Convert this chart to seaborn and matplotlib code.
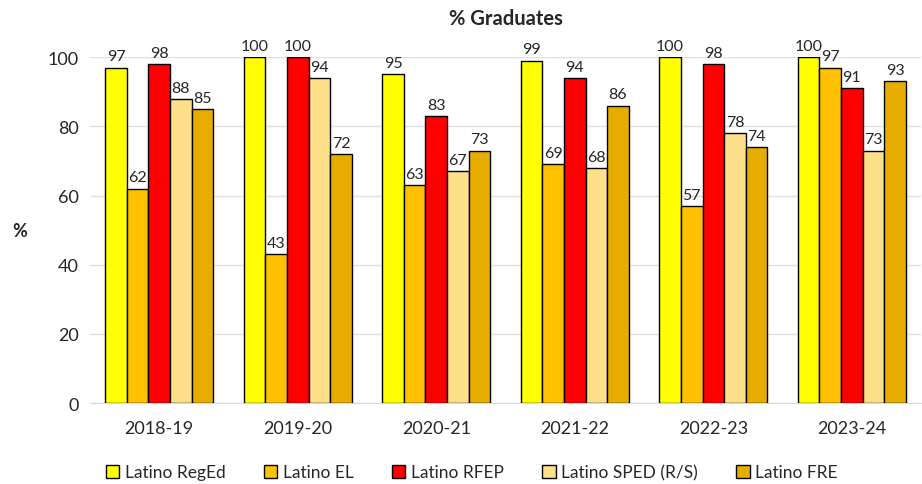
import numpy as np
import pandas as pd
import matplotlib
matplotlib.use("Agg")
import matplotlib.pyplot as plt
import seaborn as sns

years = ["2018-19", "2019-20", "2020-21", "2021-22", "2022-23", "2023-24"]
groups = ["Latino RegEd", "Latino EL", "Latino RFEP", "Latino SPED (R/S)", "Latino FRE"]
reged = [97, 100, 95, 99, 100, 100]
el = [62, 43, 63, 69, 57, 97]
rfep = [98, 100, 83, 94, 98, 91]
sped = [88, 94, 67, 68, 78, 73]
fre = [85, 72, 73, 86, 74, 93]
colors = ["#FFFF00", "#FFC000", "#FF0000", "#FFE08A", "#E6AD00"]

rows = []
for name, vals in zip(groups, [reged, el, rfep, sped, fre]):
    for yr, v in zip(years, vals):
        rows.append({"year": yr, "group": name, "value": v})
df = pd.DataFrame(rows)

sns.set_style("white")
plt.rcParams["font.family"] = ["Lato", "DejaVu Sans"]

fig = plt.figure(figsize=(9.22, 4.85), dpi=100)
ax = fig.add_axes([0.0976, 0.167, 0.9014, 0.713])

sns.barplot(data=df, x="year", y="value", hue="group", order=years, hue_order=groups,
            palette=colors, saturation=1, width=0.78, edgecolor="black", linewidth=1,
            errorbar=None, ax=ax, zorder=3)

for cont in ax.containers:
    ax.bar_label(cont, fmt="%d", padding=3, fontsize=11.5, clip_on=False)

ax.set_ylim(0, 100)
ax.set_yticks(range(0, 101, 20))
ax.set_xlim(-0.5, len(years) - 0.5)
ax.grid(axis="y", color="#e0e0e0", linewidth=1, zorder=0)
for s in ["top", "right", "left"]:
    ax.spines[s].set_visible(False)
ax.spines["bottom"].set_color("#d9d9d9")
ax.tick_params(axis="both", length=0, labelsize=13, pad=8)
ax.tick_params(axis="x", pad=12)
ax.set_xlabel("")
ax.set_ylabel("%", fontsize=13, fontweight="bold", rotation=0, labelpad=20, va="center")
ax.set_title("% Graduates", fontsize=14.5, fontweight="bold", pad=24)

ax.legend(loc="center", bbox_to_anchor=(0.459, -0.2), ncol=5, frameon=False,
          fontsize=12.5, handlelength=0.8, handleheight=0.8, handletextpad=0.3, columnspacing=2.2)

fig.savefig("out.png", dpi=100)
